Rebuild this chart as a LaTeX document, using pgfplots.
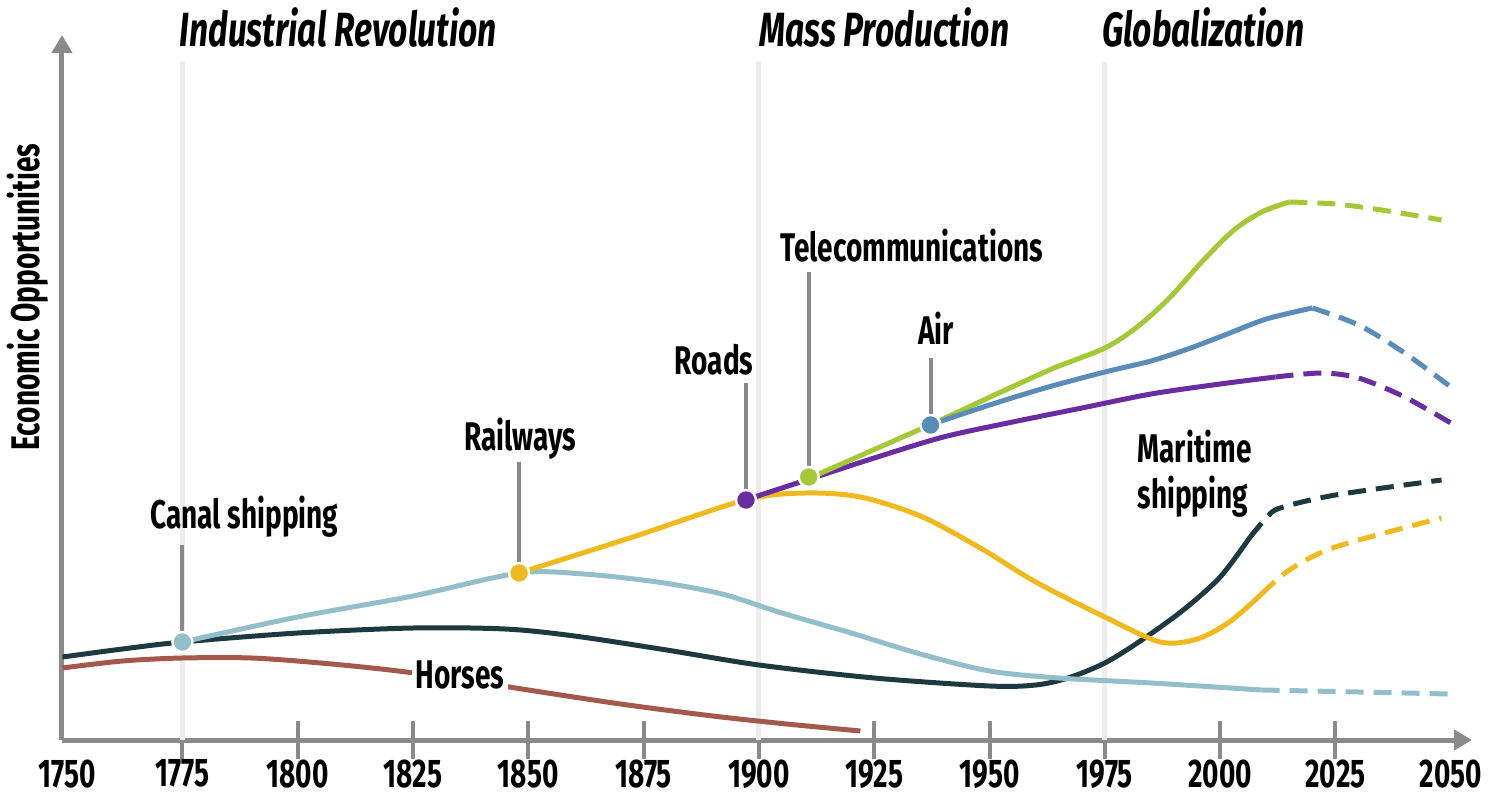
\documentclass[border=0pt]{standalone}
\usepackage{fontspec}
\setmainfont{Fira Sans}[FakeStretch=0.7]
\usepackage{pgfplots}
\pgfplotsset{compat=1.18}
\usetikzlibrary{arrows.meta}

\definecolor{axisgray}{RGB}{138,138,138}
\definecolor{gridgray}{RGB}{236,236,236}
\definecolor{maritime}{RGB}{30,58,64}
\definecolor{canal}{RGB}{147,191,203}
\definecolor{horses}{RGB}{163,90,76}
\definecolor{rail}{RGB}{240,185,30}
\definecolor{roads}{RGB}{105,45,160}
\definecolor{telecom}{RGB}{165,200,55}
\definecolor{air}{RGB}{90,140,185}

\newcommand\lab{\fontsize{20}{23}\selectfont\bfseries}
\newcommand\ttl{\fontsize{24}{28}\selectfont\bfseries\itshape}

\begin{document}
\begin{tikzpicture}
\useasboundingbox (-31pt,-29.5pt) rectangle (716.5pt,370pt);
\begin{axis}[
  anchor=south west, at={(0pt,0pt)},
  scale only axis, width=705pt, height=352.5pt,
  xmin=1748.9, xmax=2054.6, ymin=0, ymax=705,
  axis lines=left,
  axis line style={draw=axisgray, line width=2.5pt, -{Triangle[length=9pt,width=10pt]}},
  ytick=\empty,
  xtick={1775,1800,...,2025},
  extra x ticks={1750,2050},
  extra x tick style={tick style={draw=none}},
  major tick length=19pt, tick align=center,
  tick style={draw=axisgray, line width=2pt},
  /pgf/number format/1000 sep={},
  /pgf/number format/assume math mode=true,
  xticklabel style={font=\lab, anchor=north, inner sep=0pt},
  clip=false,
]
% era lines
\draw[gridgray, line width=2.5pt] (axis cs:1775,0) -- (axis cs:1775,678);
\draw[gridgray, line width=2.5pt] (axis cs:1900,0) -- (axis cs:1900,678);
\draw[gridgray, line width=2.5pt] (axis cs:1975,0) -- (axis cs:1975,678);

% horses
\addplot[horses, line width=2.5pt, smooth] coordinates {
  (1749,72) (1762,79) (1775,82) (1790,82) (1805,77) (1820,70) (1835,61)
  (1850,50) (1870,36) (1890,24) (1906,16) (1922,9)};
% maritime shipping
\addplot[maritime, line width=2.5pt, smooth] coordinates {
  (1749,83) (1762,91) (1775,98) (1800,107) (1825,112) (1845,111) (1860,104)
  (1880,90) (1900,75) (1925,62) (1950,54) (1960,55) (1967,62) (1975,77)
  (1983,100) (1992,130) (2000,163) (2006.5,203)};
\addplot[maritime, line width=2.5pt, smooth, dash pattern=on 9pt off 5pt] coordinates {
  (2006.5,203) (2010,222) (2013,232) (2025,245) (2048,260)};
% canal shipping
\addplot[canal, line width=2.5pt, smooth] coordinates {
  (1775,98) (1800,123) (1825,144) (1848,167) (1862,166) (1878,158) (1892,146)
  (1905,127) (1920,107) (1935,86) (1950,69) (1965,62) (1985,57) (2009,50)};
\addplot[canal, line width=2.5pt, smooth, dash pattern=on 9pt off 5pt] coordinates {
  (2009,50) (2030,48) (2050,46)};
% railways
\addplot[rail, line width=2.5pt, smooth] coordinates {
  (1848,167) (1872,202) (1897,240) (1910,247) (1922,243) (1935,224)
  (1948,192) (1960,158) (1975,123) (1987,98) (1995,101) (2002,118) (2009,146)};
\addplot[rail, line width=2.5pt, smooth, dash pattern=on 9pt off 5pt] coordinates {
  (2009,146) (2015,170) (2025,193) (2048,222)};
% roads
\addplot[roads, line width=2.5pt, smooth] coordinates {
  (1897,240) (1911,261) (1925,282) (1940,303) (1955,318) (1970,332) (1985,346)
  (2000,356) (2012,363)};
\addplot[roads, line width=2.5pt, smooth, dash pattern=on 9pt off 5pt] coordinates {
  (2012,363) (2022,367) (2030,362) (2040,343) (2050,317)};
% telecommunications
\addplot[telecom, line width=2.5pt, smooth] coordinates {
  (1911,262) (1937,315) (1952,347) (1964,372) (1975,392) (1982,413) (1989,442)
  (1996,478) (2003,510) (2009,528) (2015,538)};
\addplot[telecom, line width=2.5pt, smooth, dash pattern=on 9pt off 5pt] coordinates {
  (2015,538) (2025,536) (2035,530) (2048,520)};
% air
\addplot[air, line width=2.5pt, smooth] coordinates {
  (1937,315) (1950,335) (1962,352) (1975,368) (1985,379) (1993,391) (2001,405)
  (2010,421) (2020,432)};
\addplot[air, line width=2.5pt, smooth, dash pattern=on 9pt off 5pt] coordinates {
  (2020,432) (2030,415) (2040,387) (2050,353)};

% connectors
\draw[axisgray, line width=2pt] (axis cs:1775,195) -- (axis cs:1775,108);
\draw[axisgray, line width=2pt] (axis cs:1848,278) -- (axis cs:1848,177);
\draw[axisgray, line width=2pt] (axis cs:1897.2,357) -- (axis cs:1897.2,250);
\draw[axisgray, line width=2pt] (axis cs:1910.8,468) -- (axis cs:1910.8,272);
\draw[axisgray, line width=2pt] (axis cs:1937.2,382) -- (axis cs:1937.2,325);

% markers
\addplot[only marks, mark=*, mark size=5pt, mark options={fill=canal, draw=white, line width=1.2pt}] coordinates {(1775,98)};
\addplot[only marks, mark=*, mark size=5pt, mark options={fill=rail, draw=white, line width=1.2pt}] coordinates {(1848,167)};
\addplot[only marks, mark=*, mark size=5pt, mark options={fill=roads, draw=white, line width=1.2pt}] coordinates {(1897.2,240)};
\addplot[only marks, mark=*, mark size=5pt, mark options={fill=telecom, draw=white, line width=1.2pt}] coordinates {(1910.8,263)};
\addplot[only marks, mark=*, mark size=5pt, mark options={fill=air, draw=white, line width=1.2pt}] coordinates {(1937.2,315)};

% labels
\node[font=\lab, anchor=base west, inner sep=0pt] at (axis cs:1768,212) {Canal shipping};
\node[font=\lab, anchor=base, inner sep=0pt] at (axis cs:1848.2,290) {Railways};
\node[font=\lab, anchor=base, inner sep=0pt] at (axis cs:1890.3,365) {Roads};
\node[font=\lab, anchor=base west, inner sep=0pt] at (axis cs:1904.6,478) {Telecommunications};
\node[font=\lab, anchor=base, inner sep=0pt] at (axis cs:1938.4,395) {Air};
\node[font=\lab, anchor=base west, inner sep=0pt, align=left] at (axis cs:1982,232) {Maritime\\[0pt]shipping};
\node[font=\lab, anchor=base west, inner sep=2pt, fill=white] at (axis cs:1824.6,52) {Horses};
\node[font=\lab, rotate=90, inner sep=0pt] at (axis cs:1741.5,443) {Economic Opportunities};

% era titles
\node[font=\ttl, anchor=base west, inner sep=0pt] at (axis cs:1774.3,693) {Industrial Revolution};
\node[font=\ttl, anchor=base west, inner sep=0pt] at (axis cs:1900,693) {Mass Production};
\node[font=\ttl, anchor=base west, inner sep=0pt] at (axis cs:1974.3,693) {Globalization};
\end{axis}
\end{tikzpicture}
\end{document}
